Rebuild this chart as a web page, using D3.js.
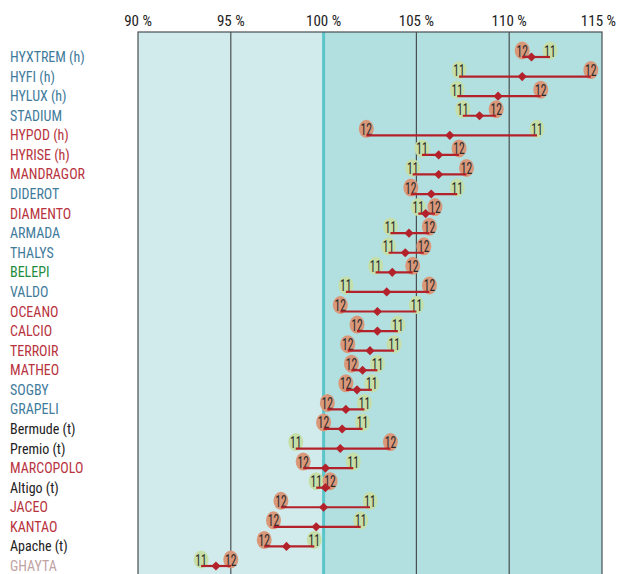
<!DOCTYPE html>
<html>
<head>
<meta charset="utf-8">
<script src="https://cdn.jsdelivr.net/npm/d3@7"></script>
<style>
  body { margin: 0; background: #fff; }
  svg text { font-family: "Liberation Sans Narrow", "Roboto Condensed", "Arial Narrow", sans-serif; }
</style>
</head>
<body>
<div id="chart"></div>
<script>
// Noms des produits (de haut en bas)
var names = ["HYXTREM (h)", "HYFI (h)", "HYLUX (h)", "STADIUM", "HYPOD (h)", "HYRISE (h)",
    "MANDRAGOR", "DIDEROT", "DIAMENTO", "ARMADA", "THALYS", "BELEPI", "VALDO", "OCEANO",
    "CALCIO", "TERROIR", "MATHEO", "SOGBY", "GRAPELI", "Bermude (t)", "Premio (t)",
    "MARCOPOLO", "Altigo (t)", "JACEO", "KANTAO", "Apache (t)", "GHAYTA"];

// groupe de couleur du libellé
var groups = ["b", "b", "b", "b", "r", "r", "r", "b", "r", "b", "b", "g", "b", "r",
    "r", "r", "r", "b", "b", "k", "k", "r", "k", "r", "r", "k", "p"];

// valeurs 2011 et 2012 (% de la moyenne)
var val11 = [112.2, 107.3, 107.2, 107.5, 111.5, 105.3, 104.8, 107.2, 105.1, 103.6, 103.5,
    102.8, 101.2, 105.0, 104.0, 103.8, 102.9, 102.6, 102.2, 102.1, 98.5, 101.6, 99.6,
    102.5, 102.0, 99.5, 93.4];
var val12 = [110.7, 114.4, 111.7, 109.3, 102.3, 107.3, 107.7, 104.7, 106.0, 105.7, 105.4,
    104.8, 105.7, 100.9, 101.8, 101.3, 101.5, 101.2, 100.2, 100.0, 103.6, 98.9, 100.35,
    97.7, 97.3, 96.8, 95.0];
// moyenne (losange)
var avg = [111.2, 110.7, 109.4, 108.4, 106.8, 106.2, 106.2, 105.8, 105.5, 104.6, 104.4,
    103.7, 103.4, 102.9, 102.9, 102.5, 102.1, 101.8, 101.2, 101.0, 100.9, 100.1, 100.1,
    100.0, 99.6, 98.0, 94.2];

var ticks = [90, 95, 100, 105, 110, 115];

var labelColor = { b: "#3f7b9b", r: "#b8333d", g: "#1e8c3c", k: "#222222", p: "#bfa3a3" };

var width = 618, height = 574;
var svg = d3.select("#chart").append("svg")
    .attr("width", width)
    .attr("height", height);

var x = d3.scaleLinear().domain([90, 115]).range([138, 602]);
var y = d3.scalePoint().domain(d3.range(names.length)).range([57, 566]);

var plotTop = 32;

// fonds
svg.append("rect")
    .attr("x", x(90)).attr("y", plotTop)
    .attr("width", x(100) - x(90)).attr("height", height - plotTop + 5)
    .attr("fill", "#d1ebec");
svg.append("rect")
    .attr("x", x(100)).attr("y", plotTop)
    .attr("width", x(115) - x(100)).attr("height", height - plotTop + 5)
    .attr("fill", "#b2dfdf");

// grille
svg.selectAll(".grid")
    .data([95, 105, 110])
    .enter()
    .append("line")
    .attr("x1", d => x(d)).attr("x2", d => x(d))
    .attr("y1", plotTop).attr("y2", height + 5)
    .attr("stroke", "#4a4f52")
    .attr("stroke-width", 1.2);

svg.append("line")
    .attr("x1", x(100)).attr("x2", x(100))
    .attr("y1", plotTop).attr("y2", height + 5)
    .attr("stroke", "#5ac6ca")
    .attr("stroke-width", 3);

// cadre
svg.append("rect")
    .attr("x", x(90)).attr("y", plotTop)
    .attr("width", x(115) - x(90)).attr("height", height - plotTop + 10)
    .attr("fill", "none")
    .attr("stroke", "#4a4f52")
    .attr("stroke-width", 1.2);

// axe du haut
svg.selectAll(".tick")
    .data(ticks)
    .enter()
    .append("text")
    .attr("x", d => d === 115 ? width - 2 : x(d))
    .attr("y", 26)
    .attr("text-anchor", d => d === 115 ? "end" : "middle")
    .attr("font-size", 15)
    .attr("fill", "#222")
    .text(d => d + " %");

// libellés
svg.selectAll(".name")
    .data(names)
    .enter()
    .append("text")
    .attr("x", 10)
    .attr("y", (d, i) => y(i) + 5)
    .attr("font-size", 14)
    .attr("fill", (d, i) => labelColor[groups[i]])
    .text(d => d);

var rows = names.map((n, i) => ({ i: i, v11: val11[i], v12: val12[i], avg: avg[i] }));

var row = svg.selectAll(".row")
    .data(rows)
    .enter()
    .append("g")
    .attr("transform", d => "translate(0," + y(d.i) + ")");

function bubble(g, key, fill, txt) {
    g.append("ellipse")
        .attr("cx", d => x(d[key]))
        .attr("cy", -6.5)
        .attr("rx", 7.5)
        .attr("ry", 9)
        .attr("fill", fill);
    g.append("text")
        .attr("x", d => x(d[key]) - 5.75)
        .attr("y", -0.5)
        .attr("font-size", 16)
        .attr("textLength", 11.5)
        .attr("lengthAdjust", "spacingAndGlyphs")
        .attr("fill", "#2a2a2a")
        .text(txt);
}

bubble(row, "v11", "#c6dfa8", "11");
bubble(row, "v12", "#d9987a", "12");

row.append("line")
    .attr("x1", d => x(d.v11))
    .attr("x2", d => x(d.v12))
    .attr("y1", 0).attr("y2", 0)
    .attr("stroke", "#b3222b")
    .attr("stroke-width", 2.2);

row.append("path")
    .attr("d", d3.symbol().type(d3.symbolSquare).size(42))
    .attr("transform", d => "translate(" + x(d.avg) + ",0) rotate(45)")
    .attr("fill", "#b3222b");
</script>
</body>
</html>
